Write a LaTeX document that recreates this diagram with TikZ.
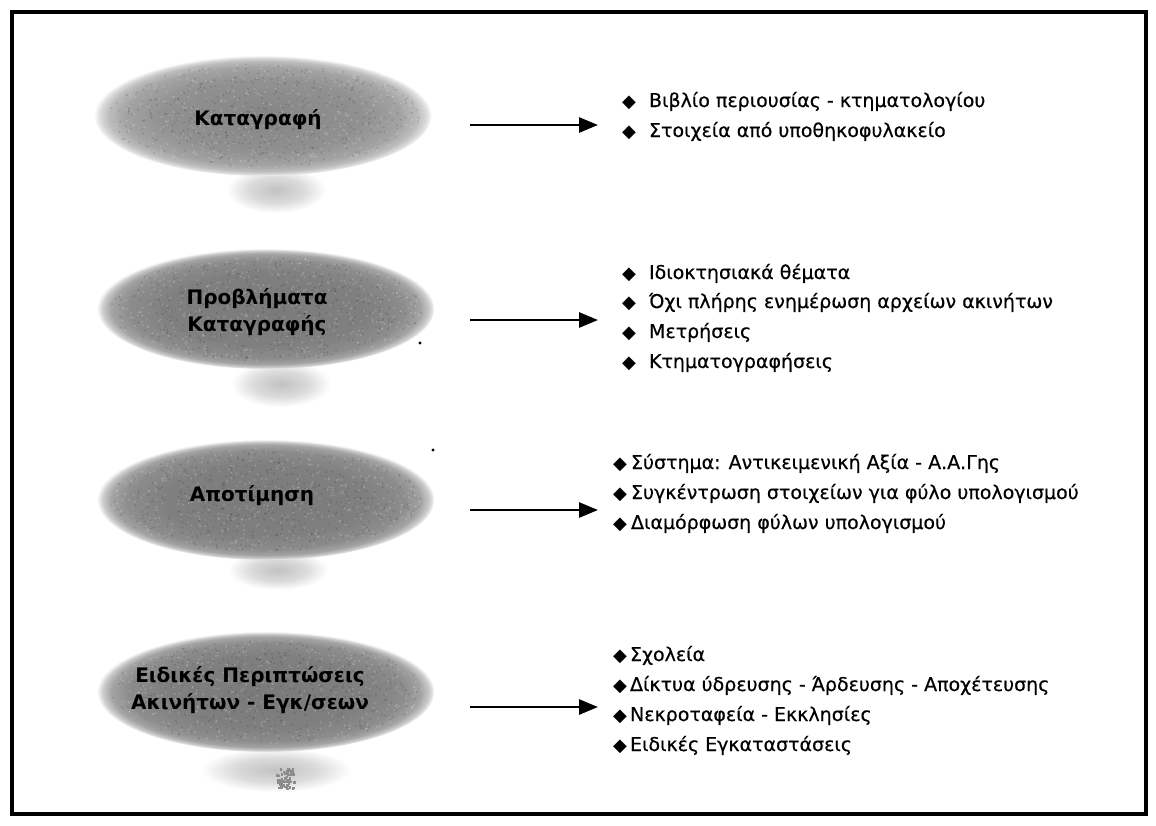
\documentclass[tikz,border=0pt]{standalone}
\usepackage{fontspec}
\setmainfont{DejaVu Sans}
\newfontfamily\symf{DejaVu Sans}
\newfontfamily\itemfont{DejaVu Sans}[FakeBold=0.5]
\usetikzlibrary{arrows.meta,shapes.geometric}
\pgfdeclareradialshading{blobshade}{\pgfpoint{0bp}{0bp}}{color(0bp)=(black!52); color(15bp)=(black!50); color(20.5bp)=(black!45); color(23bp)=(black!36); color(24.3bp)=(black!20); color(25bp)=(black!4); color(50bp)=(white)}
\pgfdeclareradialshading{blobshadeA}{\pgfpoint{0bp}{0bp}}{color(0bp)=(black!48); color(15bp)=(black!43); color(20.5bp)=(black!36); color(23bp)=(black!26); color(24.3bp)=(black!14); color(25bp)=(black!3); color(50bp)=(white)}
\pgfdeclareradialshading{stemshade}{\pgfpoint{0bp}{0bp}}{color(0bp)=(black!24); color(14bp)=(black!14); color(25bp)=(white); color(50bp)=(white)}
\newcommand{\bul}{{\fontsize{18}{18}\symf ◆}}
\newcommand{\specks}[5]{%
  \pgfmathsetseed{#5}%
  \foreach \k in {1,...,450}{%
    \pgfmathsetmacro{\ang}{360*rnd}%
    \pgfmathsetmacro{\rad}{sqrt(rnd)}%
    \fill[white, opacity=0.18] ({#1+#3*\rad*cos(\ang)},{#2+#4*\rad*sin(\ang)}) circle (1.1pt);
    \pgfmathsetmacro{\angb}{360*rnd}%
    \pgfmathsetmacro{\radb}{sqrt(rnd)}%
    \fill[black, opacity=0.12] ({#1+#3*\radb*cos(\angb)},{#2+#4*\radb*sin(\angb)}) circle (1.1pt);
  }%
}
\tikzset{
  blob/.style={ellipse, shade, shading=blobshade, inner sep=0pt,
    minimum width=336pt, minimum height=120pt},
  blabel/.style={inner sep=0pt, align=center,
    font=\fontsize{20}{27}\selectfont\bfseries},
  stem/.style={ellipse, shade, shading=stemshade, inner sep=0pt},
  item/.style={anchor=west, inner sep=0pt, text height=14pt, text depth=4pt,
    font=\fontsize{19}{23}\itemfont},
  arr/.style={line width=2.8pt, -{Triangle[length=19pt,width=15pt]}},
  frame/.style={line width=4.5pt}
}
\begin{document}
\begin{tikzpicture}[x=1pt,y=-1pt]
\useasboundingbox (0,0) rectangle (1156,825);
\fill[white] (0,0) rectangle (1156,825);
\draw[frame] (12,12) rectangle (1146,814);

% stems (faint shadows under the ellipses)
\node[stem, minimum width=100pt, minimum height=46pt] (s1) at (276,190) {};
\node[stem, minimum width=100pt, minimum height=46pt] (s2) at (281,384) {};
\node[stem, minimum width=100pt, minimum height=40pt] (s3) at (278,570) {};
\node[stem, minimum width=150pt, minimum height=44pt] (s4) at (276,770) {};
\begin{scope}
\pgfmathsetseed{7}
\foreach \k in {1,...,60}{
  \fill[black!45] ({285+9*rand},{778+10*rand}) rectangle ++(2.5,2.5);
}
\end{scope}

% ellipses
\node[blob, shading=blobshadeA] (e1) at (263,116) {};
\node[blob] (e2) at (266,309) {};
\node[blob] (e3) at (266,500) {};
\node[blob] (e4) at (266,692) {};
\specks{263}{116}{156}{52}{11}
\specks{266}{309}{156}{52}{12}
\specks{266}{500}{156}{52}{13}
\specks{266}{692}{156}{52}{14}
\node[blabel] (t1) at (258,120) {Καταγραφή};
\node[blabel] (t2) at (257,312) {Προβλήματα\\Καταγραφής};
\node[blabel] (t3) at (252,496) {Αποτίμηση};
\node[blabel] (t4) at (250,690) {Ειδικές Περιπτώσεις\\Ακινήτων - Εγκ/σεων};

% specks
\fill (420,343) circle (1.6pt);
\fill (433,450) circle (1.6pt);

% block 1
\node[item] (b11) at (622,102) {\bul\hspace{13pt}Βιβλίο περιουσίας - κτηματολογίου};
\node[item] (b12) at (622,132) {\bul\hspace{13pt}Στοιχεία από υποθηκοφυλακείο};
% block 2
\node[item] (b21) at (622,274) {\bul\hspace{13pt}Ιδιοκτησιακά θέματα};
\node[item] (b22) at (622,303) {\bul\hspace{13pt}Όχι πλήρης ενημέρωση αρχείων ακινήτων};
\node[item] (b23) at (622,333) {\bul\hspace{13pt}Μετρήσεις};
\node[item] (b24) at (622,363) {\bul\hspace{13pt}Κτηματογραφήσεις};
% block 3
\node[item] (b31) at (613,464) {\bul\hspace{4pt}Σύστημα: Αντικειμενική Αξία - Α.Α.Γης};
\node[item] (b32) at (613,494) {\bul\hspace{4pt}Συγκέντρωση στοιχείων για φύλο υπολογισμού};
\node[item] (b33) at (613,524) {\bul\hspace{4pt}Διαμόρφωση φύλων υπολογισμού};
% block 4
\node[item] (b41) at (613,656) {\bul\hspace{3pt}Σχολεία};
\node[item] (b42) at (613,686) {\bul\hspace{3pt}Δίκτυα ύδρευσης - Άρδευσης - Αποχέτευσης};
\node[item] (b43) at (613,716) {\bul\hspace{3pt}Νεκροταφεία - Εκκλησίες};
\node[item] (b44) at (613,746) {\bul\hspace{3pt}Ειδικές Εγκαταστάσεις};

% arrows
\coordinate (a1s) at (470,125); \coordinate (a1e) at (598,125);
\coordinate (a2s) at (470,320); \coordinate (a2e) at (598,320);
\coordinate (a3s) at (470,510); \coordinate (a3e) at (598,510);
\coordinate (a4s) at (470,707); \coordinate (a4e) at (598,707);
\draw[arr] (a1s) -- (a1e);
\draw[arr] (a2s) -- (a2e);
\draw[arr] (a3s) -- (a3e);
\draw[arr] (a4s) -- (a4e);
\end{tikzpicture}
\end{document}
